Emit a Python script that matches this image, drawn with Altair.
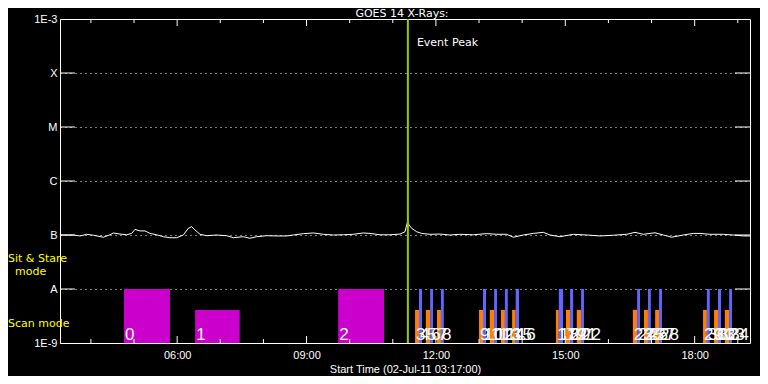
import altair as alt
import pandas as pd

DAY = "2011-07-02"

# GOES 14 flux (minutes after 03:17, flux in units of 1e-7 W/m^2)
flux_minutes = [0, 18.6, 27.8, 37.1, 46.4, 60.3, 69.6, 74.2, 83.5, 92.8, 99.7, 104.3, 111.3, 118.3,
                125.2, 134.5, 143.8, 153.0, 162.3, 171.6, 178.5, 183.2, 187.8, 194.8, 204.1, 218.0,
                231.9, 241.2, 255.1, 264.3, 273.6, 287.5, 301.5, 315.4, 324.6, 338.6, 352.5, 366.4,
                380.3, 394.2, 408.1, 422.0, 431.3, 445.2, 459.1, 473.0, 480.0, 483.3, 489.3, 496.2,
                503.2, 514.8, 528.7, 542.6, 556.5, 575.0, 593.6, 607.5, 621.4, 630.7, 644.6, 658.5,
                672.4, 681.7, 695.6, 714.2, 732.7, 751.3, 769.8, 788.4, 800.0, 811.6, 827.8, 839.4,
                851.0, 867.2, 881.1, 890.4, 904.3, 922.9, 936.8, 950.7, 960.0]
flux_e7 = [1.00, 1.00, 0.96, 1.03, 0.99, 0.91, 1.01, 1.09, 1.04, 1.01, 1.07, 1.27, 1.19, 1.19,
           1.07, 1.01, 0.93, 0.89, 0.89, 1.00, 1.33, 1.43, 1.24, 1.03, 0.97, 1.00,
           0.97, 0.89, 0.93, 0.87, 0.93, 0.97, 0.96, 0.96, 1.00, 1.06, 1.09, 1.03,
           1.00, 1.01, 1.03, 1.09, 1.07, 1.01, 1.01, 1.04, 1.15, 1.69, 1.33, 1.15,
           1.07, 1.03, 1.04, 1.00, 1.03, 1.01, 1.06, 1.03, 1.03, 0.91, 1.00, 1.07,
           1.12, 1.00, 0.93, 1.03, 1.00, 0.96, 0.99, 1.03, 1.12, 1.03, 1.10, 1.00,
           0.91, 1.00, 1.07, 1.07, 1.03, 1.03, 1.00, 0.96, 0.96]

# Sit & Stare observations
ss_start = ["04:46", "06:25", "09:44"]
ss_end = ["05:50", "07:27", "10:48"]
ss_top = [1e-8, 4.1e-9, 1e-8]
ss_labels = ["0", "1", "2"]

# Scan observations: orange part then blue part
scan_orange_start = ["11:31:00", "11:46:00", "12:01:30",
                     "13:00:00", "13:15:00", "13:30:30", "13:46:00",
                     "14:47:00", "15:01:00", "15:16:00",
                     "16:34:00", "16:49:30", "17:05:00",
                     "18:11:40", "18:27:00", "18:42:00"]
scan_blue_start = ["11:36:30", "11:52:00", "12:07:00",
                   "13:05:30", "13:21:00", "13:36:00", "13:51:00",
                   "14:51:00", "15:06:40", "15:22:00",
                   "16:40:00", "16:55:00", "17:10:30",
                   "18:17:00", "18:32:30", "18:48:00"]
scan_blue_end = ["11:40:40", "11:56:00", "12:11:00",
                 "13:09:40", "13:25:00", "13:40:00", "13:55:40",
                 "14:57:00", "15:11:00", "15:26:00",
                 "16:44:00", "16:59:00", "17:14:30",
                 "18:21:00", "18:36:40", "18:52:00"]
scan_orange_top = 4.1e-9
scan_blue_top = 1e-8

event_peak = "11:21"

level_values = [1e-9, 1e-8, 1e-7, 1e-6, 1e-5, 1e-4, 1e-3]
level_labels = ["1E-9", "A", "B", "C", "M", "X", "1E-3"]
major_ticks = ["06:00", "09:00", "12:00", "15:00", "18:00"]
minor_ticks = ["04:00", "05:00", "07:00", "08:00", "10:00", "11:00",
               "13:00", "14:00", "16:00", "17:00", "19:00"]

FONT = "DejaVu Sans"
AXFONT = "Liberation Sans"


def ts(hm):
    return pd.Timestamp(f"{DAY} {hm}")


base_t = ts("03:17")
flux_df = pd.DataFrame({
    "t": [base_t + pd.Timedelta(minutes=m) for m in flux_minutes],
    "flux": [v * 1e-7 for v in flux_e7],
})

ss_df = pd.DataFrame({
    "t": [ts(s) for s in ss_start],
    "t2": [ts(s) for s in ss_end],
    "top": ss_top,
    "bottom": [1e-9] * 3,
    "label": ss_labels,
})

orange_df = pd.DataFrame({
    "t": [ts(s) for s in scan_orange_start],
    "t2": [ts(s) for s in scan_blue_start],
    "top": [scan_orange_top] * len(scan_orange_start),
    "bottom": [1e-9] * len(scan_orange_start),
})
blue_df = pd.DataFrame({
    "t": [ts(s) for s in scan_blue_start],
    "t2": [ts(s) for s in scan_blue_end],
    "top": [scan_blue_top] * len(scan_blue_start),
    "bottom": [1e-9] * len(scan_blue_start),
})

label_rows = []
for i, (o, b) in enumerate(zip(scan_orange_start, scan_blue_start)):
    label_rows.append({"t": ts(o), "label": str(3 + 2 * i), "bottom": 1e-9})
    label_rows.append({"t": ts(b), "label": str(4 + 2 * i), "bottom": 1e-9})
labels_df = pd.concat([ss_df[["t", "label", "bottom"]], pd.DataFrame(label_rows)], ignore_index=True)

peak_df = pd.DataFrame({"t": [ts(event_peak)]})
levels_df = pd.DataFrame({"level": level_values[1:-1]})
major_df = pd.DataFrame({"t": [ts(s) for s in major_ticks]})
minor_df = pd.DataFrame({"t": [ts(s) for s in minor_ticks]})
one = pd.DataFrame({"a": [1]})


def dt(hm):
    h, m = hm.split(":")[:2]
    return alt.DateTime(year=2011, month=7, date=2, hours=int(h), minutes=int(m))


x_scale = alt.Scale(domain=[dt("03:17"), dt("19:17")])
y_scale = alt.Scale(type="log", domain=[1e-9, 1e-3])

label_arr = "[" + ",".join(f"'{s}'" for s in level_labels) + "]"
x_axis = alt.Axis(values=[dt(s) for s in major_ticks], format="%H:%M",
                  title="Start Time (02-Jul-11 03:17:00)", tickSize=0, ticks=False,
                  domain=False, grid=False, labelColor="white", labelFont=AXFONT,
                  labelFontSize=11, labelPadding=6, titleColor="white", titleFont=AXFONT,
                  titleFontSize=11, titleFontWeight="normal", titlePadding=3)
y_axis = alt.Axis(values=level_values, labelExpr=f"{label_arr}[round(log(datum.value)/LN10)+9]",
                  title=None, tickSize=0, ticks=False, domain=False, grid=True,
                  gridColor="white", gridOpacity=1, gridDash=[1, 4], gridWidth=1,
                  labelColor="white", labelFont=AXFONT, labelFontSize=11, labelPadding=3)

X = lambda f: alt.X(f"{f}:T", scale=x_scale, axis=x_axis)
Y = lambda f: alt.Y(f"{f}:Q", scale=y_scale, axis=y_axis)

line = alt.Chart(flux_df).mark_line(color="white", strokeWidth=1, clip=True).encode(x=X("t"), y=Y("flux"))

ss_rect = alt.Chart(ss_df).mark_rect(color="#CC00CC").encode(x=X("t"), x2="t2", y=Y("bottom"), y2="top")
or_rect = alt.Chart(orange_df).mark_rect(color="#FF8000").encode(x=X("t"), x2="t2", y=Y("bottom"), y2="top")
bl_rect = alt.Chart(blue_df).mark_rect(color="#6464FF").encode(x=X("t"), x2="t2", y=Y("bottom"), y2="top")

labels = alt.Chart(labels_df).mark_text(align="left", baseline="alphabetic", dx=1, dy=-3,
                                        fontSize=17, font=AXFONT, color="white").encode(
    x=X("t"), y=Y("bottom"), text="label:N")

peak = alt.Chart(peak_df).mark_rule(color="#99CC00", strokeWidth=2).encode(x=X("t"))
peak_text = alt.Chart(peak_df).mark_text(text="Event Peak", align="left", baseline="middle", dx=9,
                                         fontSize=11, font=FONT, color="white").encode(
    x=X("t"), y=alt.value(24))

ytick_l = alt.Chart(levels_df).mark_rule(color="white").encode(y=Y("level"), x=alt.value(0), x2=alt.value(15))
ytick_r = alt.Chart(levels_df).mark_rule(color="white").encode(y=Y("level"), x=alt.value(675), x2=alt.value(690))
maj_b = alt.Chart(major_df).mark_rule(color="white").encode(x=X("t"), y=alt.value(324), y2=alt.value(317))
maj_t = alt.Chart(major_df).mark_rule(color="white").encode(x=X("t"), y=alt.value(0), y2=alt.value(7))
min_b = alt.Chart(minor_df).mark_rule(color="white").encode(x=X("t"), y=alt.value(324), y2=alt.value(320))
min_t = alt.Chart(minor_df).mark_rule(color="white").encode(x=X("t"), y=alt.value(0), y2=alt.value(4))

title = alt.Chart(one).mark_text(text="GOES 14 X-Rays:", align="center", baseline="alphabetic",
                                 fontSize=11, font=FONT, color="white").encode(
    x=alt.value(342), y=alt.value(-2))
mode1 = alt.Chart(one).mark_text(text="Sit & Stare", align="left", baseline="middle",
                                 fontSize=11, font=FONT, color="#FFFF00").encode(
    x=alt.value(-52), y=alt.value(240))
mode2 = alt.Chart(one).mark_text(text="mode", align="left", baseline="middle",
                                 fontSize=11, font=FONT, color="#FFFF00").encode(
    x=alt.value(-45), y=alt.value(253))
mode3 = alt.Chart(one).mark_text(text="Scan mode", align="left", baseline="middle",
                                 fontSize=11, font=FONT, color="#FFFF00").encode(
    x=alt.value(-52), y=alt.value(305))

chart = alt.layer(
    line, ss_rect, or_rect, bl_rect, labels, peak, peak_text,
    ytick_l, ytick_r, maj_b, maj_t, min_b, min_t, title, mode1, mode2, mode3
).properties(
    width=690, height=324, background="black",
    padding={"left": 52, "top": 11, "right": 10, "bottom": 33},
    autosize=alt.AutoSizeParams(type="none"),
).configure_view(stroke="white", strokeWidth=1, fill="black")

chart.save("out.html", embed_options={"renderer": "svg", "actions": False})
